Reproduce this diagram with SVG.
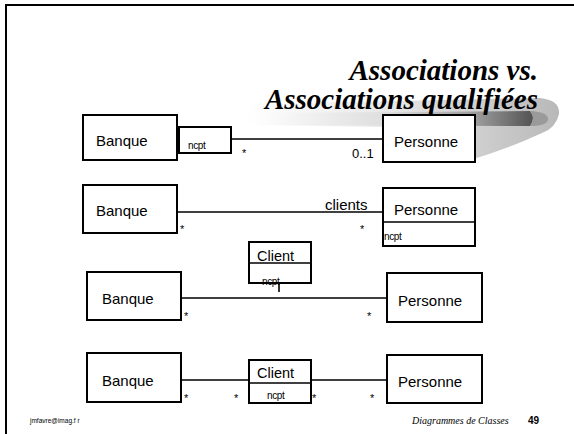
<svg xmlns="http://www.w3.org/2000/svg" width="574" height="434" viewBox="0 0 574 434">
<defs>
<linearGradient id="swA" x1="245" y1="0" x2="560" y2="0" gradientUnits="userSpaceOnUse">
<stop offset="0" stop-color="#ffffff"/>
<stop offset="0.45" stop-color="#e8e8e8"/>
<stop offset="1" stop-color="#b8b8b8"/>
</linearGradient>
<linearGradient id="swB" x1="250" y1="0" x2="535" y2="0" gradientUnits="userSpaceOnUse">
<stop offset="0" stop-color="#ffffff"/>
<stop offset="0.5" stop-color="#dcdcdc"/>
<stop offset="0.8" stop-color="#9a9a9a"/>
<stop offset="1" stop-color="#505050"/>
</linearGradient>
<style>
.box{fill:#fff;stroke:#000;stroke-width:2}
.ln{fill:none;stroke:#000;stroke-width:1.6}
.lbl{font-family:"Liberation Sans",Arial,sans-serif;font-size:15px;fill:#000}
.sm{font-family:"Liberation Sans",Arial,sans-serif;font-size:10px;fill:#000;letter-spacing:-0.4px}
.mult{font-family:"Liberation Sans",Arial,sans-serif;font-size:11px;fill:#000}
</style>
</defs>
<rect x="0" y="0" width="574" height="434" fill="#fff"/>
<path d="M6,434 V5 H574" fill="none" stroke="#000" stroke-width="2"/>
<g id="swoosh">
<path d="M248,104 L540,98 Q560,100 559,114 Q556,128 542,133 Q505,150 470,160 L400,152 Q392,130 383,127 L248,125 Z" fill="url(#swA)"/>
<path d="M252,113 L530,111 Q536,118 530,126 L252,125 Z" fill="url(#swB)"/>
<path d="M530,111 Q548,112 548,119 Q548,126 530,126 Q536,118 530,111 Z" fill="#9a9a9a"/>
</g>
<g id="title" font-family="Liberation Serif, Times New Roman, serif" font-size="29" font-weight="bold" font-style="italic" fill="#000" text-anchor="end">
<text x="538" y="80">Associations vs.</text>
<text x="538" y="109">Associations qualifiées</text>
</g>
<g id="connectors">
<line class="ln" x1="231" y1="139" x2="383" y2="139"/>
<line class="ln" x1="177" y1="212" x2="383" y2="212"/>
<line class="ln" x1="181" y1="298" x2="387" y2="298"/>
<line class="ln" x1="279" y1="283" x2="279" y2="292"/>
<line class="ln" x1="181" y1="380" x2="249" y2="380"/>
<line class="ln" x1="311" y1="380" x2="387" y2="380"/>
<text class="mult" x="242" y="157">*</text>
<text class="mult" x="352" y="158" style="font-size:13px">0..1</text>
<text class="lbl" x="325" y="210">clients</text>
<text class="mult" x="180" y="233">*</text>
<text class="mult" x="360" y="233">*</text>
<text class="mult" x="184" y="320">*</text>
<text class="mult" x="367" y="320">*</text>
<text class="mult" x="184" y="402">*</text>
<text class="mult" x="234" y="402">*</text>
<text class="mult" x="312" y="402">*</text>
<text class="mult" x="370" y="402">*</text>
</g>
<g id="banque1"><rect class="box" x="83" y="115" width="94" height="45"/><text class="lbl" x="96" y="146">Banque</text></g>
<g id="ncpt1"><rect class="box" x="179" y="127" width="52" height="26"/><text class="sm" x="188" y="149">ncpt</text></g>
<g id="personne1"><rect class="box" x="383" y="115" width="92" height="47"/><text class="lbl" x="394" y="147">Personne</text></g>
<g id="banque2"><rect class="box" x="83" y="185" width="94" height="48"/><text class="lbl" x="96" y="216">Banque</text></g>
<g id="personne2"><rect class="box" x="383" y="188" width="92" height="58"/><line class="ln" x1="383" y1="222" x2="475" y2="222"/><text class="lbl" x="394" y="215">Personne</text><text class="sm" x="384" y="240">ncpt</text></g>
<g id="client3"><rect class="box" x="249" y="242" width="62" height="41"/><line class="ln" x1="249" y1="263" x2="311" y2="263"/><text class="lbl" x="257" y="261" style="font-size:14.5px">Client</text><text class="sm" x="262" y="285">ncpt</text></g>
<g id="banque3"><rect class="box" x="87" y="272" width="94" height="48"/><text class="lbl" x="102" y="304">Banque</text></g>
<g id="personne3"><rect class="box" x="387" y="273" width="95" height="49"/><text class="lbl" x="398" y="306">Personne</text></g>
<g id="banque4"><rect class="box" x="87" y="353" width="94" height="49"/><text class="lbl" x="102" y="386">Banque</text></g>
<g id="client4"><rect class="box" x="249" y="360" width="62" height="43"/><line class="ln" x1="249" y1="383" x2="311" y2="383"/><text class="lbl" x="257" y="378" style="font-size:14.5px">Client</text><text class="sm" x="267" y="399">ncpt</text></g>
<g id="personne4"><rect class="box" x="387" y="355" width="95" height="48"/><text class="lbl" x="398" y="387">Personne</text></g>
<g id="footer">
<text x="30" y="423" font-family="Liberation Sans, Arial, sans-serif" font-size="6.5" fill="#000">jmfavre@imag.f r</text>
<text x="412" y="424" font-family="Liberation Serif, Times New Roman, serif" font-size="10" font-style="italic" fill="#000">Diagrammes de Classes</text>
<text x="528" y="424" font-family="Liberation Sans, Arial, sans-serif" font-size="10" font-weight="bold" fill="#000">49</text>
</g>
</svg>
